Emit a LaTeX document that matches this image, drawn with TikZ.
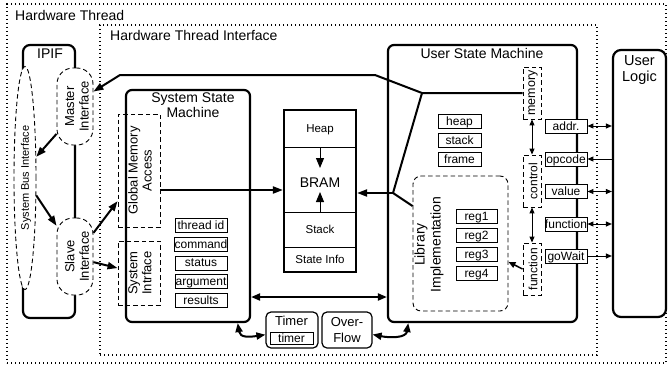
\documentclass[tikz,border=0pt]{standalone}
\usepackage{fontspec}
\setmainfont{Liberation Sans}
\usetikzlibrary{arrows.meta,shapes.geometric}
\newcommand{\fsz}[2]{\fontsize{#1}{#2}\selectfont}
\tikzset{
 thickbox/.style={draw, line width=2.2pt, rounded corners=6pt, inner sep=0pt},
 cellbox/.style={draw, line width=0.9pt, fill=white, inner sep=0pt, minimum height=14pt, text depth=0pt, font=\fsz{12}{14}},
 bramcell/.style={draw, line width=0.9pt, inner sep=0pt, minimum width=72pt, text depth=0pt, font=\fsz{11.5}{13}},
 dashbox/.style={draw, line width=0.9pt, dash pattern=on 4.5pt off 3pt, inner sep=0pt},
 dotframe/.style={draw, line width=1.2pt, dash pattern=on 1.3pt off 2.7pt, inner sep=0pt},
 rottext/.style={rotate=90, align=center, inner sep=0pt},
 bigline/.style={line width=2pt},
 bigarrow/.style={line width=2pt, -{Triangle[length=10pt,width=7pt]}},
 bigdarrow/.style={line width=2pt, {Triangle[length=9pt,width=7pt]}-{Triangle[length=9pt,width=7pt]}},
 midarrow/.style={line width=1.5pt, -{Triangle[length=7pt,width=6pt]}},
 smallarrow/.style={line width=1pt, -{Triangle[length=6pt,width=5pt]}},
 smalldarrow/.style={line width=1pt, {Triangle[length=6pt,width=5pt]}-{Triangle[length=6pt,width=5pt]}},
 brarrow/.style={line width=1pt, -{Triangle[length=10pt,width=8pt]}},
}
\begin{document}
\begin{tikzpicture}[x=1pt,y=-1pt]
\useasboundingbox (0,0) rectangle (668,367);
% frames
\node[dotframe, minimum width=659pt, minimum height=359pt] (ht) at (336.5,183.5) {};
\node[anchor=base west, inner sep=0pt, font=\fsz{14}{16}] (htl) at (15,20) {Hardware Thread};
\node[dotframe, minimum width=497pt, minimum height=330pt] (hti) at (348.5,190) {};
\node[anchor=base west, inner sep=0pt, font=\fsz{14}{16}] (htil) at (110,40.7) {Hardware Thread Interface};
% IPIF
\node[thickbox, rounded corners=7pt, minimum width=52pt, minimum height=273pt] (ipif) at (49,181.5) {};
\node[anchor=base, inner sep=0pt, font=\fsz{14}{16}] (ipifl) at (50,58.3) {IPIF};
\node[dashbox, ellipse, fill=white, minimum width=22pt, minimum height=223pt] (sbi) at (25,178) {};
\node[rottext, font=\fsz{11}{13}] (sbil) at (26,178) {System Bus Interface};
\node[dashbox, fill=white, rounded corners=16pt, minimum width=36pt, minimum height=77pt] (master) at (75,106.5) {};
\node[rottext, font=\fsz{13}{14.5}] (masterl) at (77,106.5) {Master\\Interface};
\node[dashbox, fill=white, rounded corners=16pt, minimum width=36pt, minimum height=77pt] (slave) at (75,256.5) {};
\node[rottext, font=\fsz{13}{14.5}] (slavel) at (77,256.5) {Slave\\Interface};
% System State Machine
\node[thickbox, minimum width=124pt, minimum height=232pt] (ssm) at (188,206) {};
\node[anchor=north, align=center, inner sep=0pt, font=\fsz{14}{15.5}] (ssml) at (193,92.5) {System State\\Machine};
\node[dashbox, minimum width=42pt, minimum height=113pt] (gma) at (139,170.5) {};
\node[rottext, font=\fsz{13}{14}] (gmal) at (140,170.5) {Global Memory\\Access};
\node[dashbox, minimum width=42pt, minimum height=64pt] (si) at (139,273) {};
\node[rottext, font=\fsz{13}{14}] (sil) at (140,273) {System\\Intrface};
\foreach \n/\t/\y in {tid/thread id/225.5, cmd/command/244, sts/status/263, arg/argument/281.5, res/results/300}
  \node[cellbox, minimum width=52pt] (\n) at (201,\y) {\t};
% BRAM
\node[bramcell, minimum height=37pt] (heap) at (320,128.5) {Heap};
\node[bramcell, minimum height=65pt] (bmid) at (320,179.5) {};
\node[bramcell, minimum height=35pt] (stack) at (320,229.5) {Stack};
\node[bramcell, minimum height=25pt] (sinfo) at (320,259.5) {State Info};
\node[draw, line width=2.2pt, inner sep=0pt, minimum width=72pt, minimum height=162pt] (bram) at (320,191) {};
\node[inner sep=0pt, text depth=0pt, font=\fsz{14}{16}] (braml) at (320,182.5) {BRAM};
\coordinate (hd) at (320,168);
\coordinate (su) at (320,192);
\draw[brarrow] (heap.south) -- (hd);
\draw[brarrow] (stack.north) -- (su);
% User State Machine
\node[thickbox, minimum width=189pt, minimum height=277pt] (usm) at (482.5,183.5) {};
\node[anchor=base, inner sep=0pt, font=\fsz{14}{16}] (usml) at (482,58.3) {User State Machine};
\node[dashbox, minimum width=18pt, minimum height=52pt] (mem) at (532,93) {};
\node[rottext, font=\fsz{12.5}{14}] (meml) at (533,93) {memory};
\node[dashbox, minimum width=18pt, minimum height=52pt] (ctl) at (532,181) {};
\node[rottext, font=\fsz{12}{14}] (ctll) at (533,181) {control};
\node[dashbox, minimum width=18pt, minimum height=52pt] (funcd) at (532,269) {};
\node[rottext, font=\fsz{12}{14}] (funcdl) at (533,269) {function};
\foreach \n/\t/\y in {uheap/heap/121, ustack/stack/140, uframe/frame/159}
  \node[cellbox, minimum width=43pt] (\n) at (459.5,\y) {\t};
\node[dashbox, rounded corners=8pt, minimum width=95pt, minimum height=135pt] (lib) at (460.5,243.5) {};
\node[rottext, font=\fsz{14}{16}] (libl) at (429,244.5) {Library\\Implementation};
\foreach \n/\y in {1/216.5, 2/235, 3/254, 4/273}
  \node[cellbox, minimum width=41pt] (reg\n) at (476.5,\y) {reg\n};
\foreach \n/\t/\y in {addr/addr./126, opc/opcode/159, val/value/191.5, fun/function/224, gow/goWait/256}
  \node[cellbox, minimum width=42pt] (\n) at (566,\y) {\t};
% User Logic
\node[thickbox, rounded corners=8pt, minimum width=53pt, minimum height=267pt] (ul) at (639.5,183.5) {};
\node[anchor=north, align=center, inner sep=0pt, font=\fsz{14.5}{16}] (ull) at (639.5,55.6) {User\\Logic};
% Timer and Over-Flow
\node[draw, line width=1.2pt, rounded corners=5pt, minimum width=52pt, minimum height=36pt, inner sep=0pt] (timer) at (292,330) {};
\node[anchor=base, inner sep=0pt, font=\fsz{13}{15}] (timerl) at (291.5,325.7) {Timer};
\node[cellbox, minimum width=43pt, minimum height=12pt] (timerin) at (291.5,338) {timer};
\node[draw, line width=1.2pt, rounded corners=5pt, minimum width=50pt, minimum height=36pt, align=center, inner sep=0pt, font=\fsz{13}{15.6}] (ovf) at (347,330) {Over-\\Flow};
% connectors
\coordinate (c1) at (422,93);
\coordinate (c2) at (375,75);
\coordinate (c3) at (120,75);
\coordinate (c4) at (393,193);
\draw[bigarrow] (mem.west) -- (c1) -- (c2) -- (c3) -- (master.39);
\draw[bigline] (c1) -- (c4) -- (lib.142.5);
\draw[bigarrow] (c4) -- (c4 -| bram.east);
\coordinate (g1) at (0,190);
\draw[bigarrow] (gma.east |- g1) -- (bram.west |- g1);
\coordinate (y1) at (0,297);
\draw[bigdarrow] (ssm.east |- y1) -- (usm.west |- y1);
\draw[bigarrow] (master.236) -- (sbi.62);
\draw[bigarrow] (sbi.-57) -- (slave.121);
\draw[bigarrow] (slave.52) -- (gma.235);
\draw[bigarrow] (slave.-17) -- (si.167);
\draw[smalldarrow] (mem.south) -- (ctl.north);
\draw[smalldarrow] (ctl.south) -- (funcd.north);
\draw[midarrow] (funcd.west) -- (lib.-21);
\draw[smalldarrow] (addr.east) -- (addr.east -| ul.west);
\draw[smallarrow] (opc.east -| ul.west) -- (opc.east);
\draw[smalldarrow] (val.east) -- (val.east -| ul.west);
\draw[smalldarrow] (fun.east) -- (fun.east -| ul.west);
\draw[smallarrow] (gow.east) -- (gow.east -| ul.west);
\draw[bigdarrow] (ssm.-67) .. controls (240,338) and (250,337) .. (timer.190);
\draw[bigdarrow] (ovf.-10) .. controls (390,338) and (406,338) .. (usm.242);
\end{tikzpicture}
\end{document}
